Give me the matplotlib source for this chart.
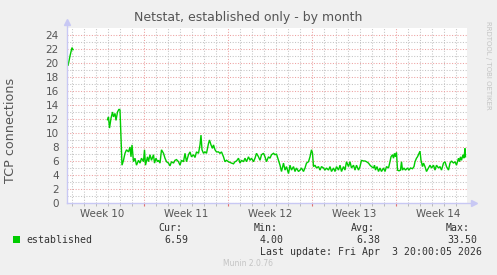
import numpy as np
import matplotlib.pyplot as plt
from matplotlib.patches import Rectangle

# hours since start of the graph window (800 h = 400 px * 2 h), NaN splits gaps
hours_a = [0, 2, 6, 10, 12]
conn_a = [20.2, 19.6, 21.0, 22.2, 21.9]

hours_b = [81, 83, 85, 88, 91, 93, 96, 98, 101, 104,
           106, 110, 113, 116, 119, 123, 126, 128, 130, 133,
           136, 139, 143, 146, 149, 153, 155, 157, 161, 163,
           166, 169, 173, 175, 178, 181, 183, 186, 189, 193,
           196, 199, 203, 206, 209, 213, 216, 219, 223, 226,
           229, 233,
           236, 239, 243, 246, 249, 253, 256, 259, 263, 266,
           268, 270, 273, 276, 279, 283, 285, 288, 291, 293,
           296, 299, 303, 306, 309, 313, 316, 319, 323, 326,
           329, 333, 336, 339, 343, 346, 349, 353, 356, 359,
           363, 366, 369, 373, 376, 379, 383, 386, 389, 393,
           396, 399, 403,
           406, 409, 413, 416, 419, 423, 426, 429, 433, 436,
           439, 443, 446, 449, 453, 456, 459, 463, 466, 469,
           473, 476, 479, 483, 486, 489, 491, 493, 496, 499,
           503, 506, 509, 513, 516, 519, 523, 526, 529, 533,
           536, 539, 543, 546, 549, 553, 556, 559, 563, 566,
           569, 573, 576, 579, 583, 586, 589, 593,
           596, 599, 603, 606, 609, 613, 615, 617, 620, 623,
           626, 629, 633, 636, 639, 643, 646, 648, 651, 653,
           655, 657, 659, 661, 664, 667, 669, 671, 674, 677,
           681, 684, 687, 691, 694, 696, 699, 701, 704, 706,
           708, 711, 713, 716, 719, 723, 726, 729, 733, 736,
           739, 743, 746, 749, 753, 756, 759, 763, 766, 769,
           773, 776, 779, 783, 785, 787, 789, 792, 794, 796,
           797]
conn_b = [11.9, 12.3, 10.7, 12.1, 13.0, 12.3, 12.8, 11.8, 13.0, 13.4,
          13.3, 5.4, 6.1, 7.1, 7.6, 7.3, 8.0, 6.6, 8.3, 5.9,
          6.4, 5.4, 6.1, 5.7, 6.4, 5.9, 7.6, 5.4, 6.6, 5.9,
          6.9, 6.1, 6.9, 5.7, 6.4, 5.9, 6.1, 5.7, 7.6, 7.1,
          6.4, 5.9, 5.7, 5.3, 5.9, 5.7, 6.1, 6.2, 5.9, 5.4,
          6.1, 5.9,
          7.1, 5.9, 6.9, 7.3, 6.6, 6.9, 6.5, 7.3, 7.1, 8.3,
          9.7, 7.6, 7.1, 7.3, 7.1, 8.5, 9.0, 8.3, 7.8, 8.3,
          7.6, 7.3, 7.3, 7.1, 7.3, 6.6, 5.9, 6.1, 5.9, 5.8,
          5.7, 5.6, 5.9, 6.0, 6.4, 5.7, 6.1, 5.9, 6.4, 5.9,
          6.6, 6.1, 6.4, 5.9, 6.4, 7.1, 6.6, 6.1, 6.9, 7.1,
          6.6, 5.9, 6.6,
          6.4, 6.9, 7.1, 6.9, 7.0, 6.1, 5.4, 4.5, 5.7, 4.7,
          5.2, 4.2, 5.4, 4.7, 5.2, 4.5, 5.0, 4.5, 4.7, 5.0,
          4.5, 5.0, 5.7, 5.9, 6.6, 7.6, 7.1, 5.2, 5.4, 5.0,
          5.2, 4.7, 5.2, 5.0, 4.7, 5.0, 4.7, 5.2, 4.5, 5.0,
          4.5, 5.2, 4.7, 5.4, 4.5, 5.2, 4.7, 5.9, 5.2, 5.9,
          5.0, 5.4, 4.7, 5.4, 4.7, 5.2, 6.1, 6.0,
          6.0, 5.9, 5.7, 5.4, 5.2, 5.0, 5.4, 4.7, 5.2, 4.5,
          5.0, 4.5, 5.0, 4.5, 5.2, 5.0, 5.9, 6.6, 6.9, 6.4,
          7.1, 6.6, 7.2, 4.7, 4.6, 4.7, 5.9, 4.7, 5.0, 4.7,
          5.0, 4.7, 5.0, 4.9, 5.2, 5.9, 6.4, 6.6, 7.1, 7.4,
          6.1, 5.2, 5.7, 5.2, 4.5, 5.0, 5.4, 5.0, 5.4, 4.7,
          5.4, 5.0, 5.2, 4.7, 5.7, 5.9, 5.2, 4.7, 5.7, 6.0,
          5.7, 5.9, 5.4, 6.4, 5.9, 6.6, 6.1, 6.9, 6.4, 7.8,
          6.6]

week_starts = [154, 322, 490, 658]
week_labels = ['Week 10', 'Week 11', 'Week 12', 'Week 13', 'Week 14']
week_mids = [70, 238, 406, 574, 742]

stats_names = ['Cur:', 'Min:', 'Avg:', 'Max:']
stats_vals = ['6.59', '4.00', '6.38', '33.50']

BG = '#f0f0f0'
GREEN = '#00cc00'
AXC = '#c8c8f4'
TXT = '#555555'

W, H = 497, 275
fig = plt.figure(figsize=(W / 100, H / 100), dpi=100, facecolor=BG)
ax = fig.add_axes([67 / W, 1 - 203 / H, 400 / W, 175 / H])
ax.set_facecolor('white')

hours = hours_a + [np.nan] + hours_b
conn = conn_a + [np.nan] + conn_b
ax.plot(hours, conn, color=GREEN, lw=1.0, zorder=5, solid_joinstyle='miter')

ax.set_xlim(0, 800)
ax.set_ylim(0, 25)
ax.set_xticks(week_starts)
ax.set_xticks(np.arange(10, 800, 24), minor=True)
ax.set_xticklabels([])
ax.set_yticks(np.arange(0, 25, 2))
ax.set_yticks(np.arange(0, 25, 1), minor=True)

ax.grid(which='minor', color='#c4c4c4', lw=0.75, ls=(0, (1, 1.6)))
ax.grid(which='major', color='#eda0a0', lw=0.75, ls=(0, (1, 1.6)))
ax.set_axisbelow(True)

ax.tick_params(axis='x', which='major', length=2, color='#e07070', direction='out')
ax.tick_params(axis='x', which='minor', length=2, color='#b0b0b0', direction='out')
ax.tick_params(axis='y', which='both', length=0, labelsize=7.5, labelcolor=TXT, pad=6)

for s in ax.spines.values():
    s.set_visible(False)

# axis lines with arrows
ax.plot([0, 0], [0, 1.035], transform=ax.transAxes, color=AXC, lw=1, clip_on=False, zorder=6)
ax.plot([0, 1.018], [0, 0], transform=ax.transAxes, color=AXC, lw=1, clip_on=False, zorder=6)
ax.plot([0], [1.035], transform=ax.transAxes, marker='^', ms=5, color=AXC, clip_on=False, zorder=6)
ax.plot([1.018], [0], transform=ax.transAxes, marker='>', ms=5, color=AXC, clip_on=False, zorder=6)

for xm, lab in zip(week_mids, week_labels):
    ax.text(xm, -0.035, lab, transform=ax.get_xaxis_transform(), ha='center', va='top',
            fontsize=7.4, color=TXT)

fig.text(248 / W, 1 - 18 / H, 'Netstat, established only - by month', ha='center', va='center',
         fontsize=9, color=TXT)
fig.text(11 / W, 1 - 130 / H, 'TCP connections', rotation=90, ha='center', va='center',
         fontsize=9.2, color=TXT)
fig.text(488 / W, 1 - 65 / H, 'RRDTOOL / TOBI OETIKER', rotation=270, ha='center', va='center',
         fontsize=5, color='#c4c4c4')

# legend block
fig.patches.append(Rectangle((13 / W, 1 - 243 / H), 7 / W, 7 / H, transform=fig.transFigure,
                             facecolor=GREEN, edgecolor='none'))
mono = dict(family='DejaVu Sans Mono', fontsize=7.1, color='#333333')
fig.text(26 / W, 1 - 240 / H, 'established', ha='left', va='center', **mono)
head_x = [182, 278, 375, 470]
val_x = [188, 284, 380, 477]
for hx, vx, nm, v in zip(head_x, val_x, stats_names, stats_vals):
    fig.text(hx / W, 1 - 228 / H, nm, ha='right', va='center', **mono)
    fig.text(vx / W, 1 - 240 / H, v, ha='right', va='center', **mono)
fig.text(482 / W, 1 - 252 / H, 'Last update: Fri Apr  3 20:00:05 2026', ha='right', va='center', **mono)
fig.text(248 / W, 1 - 264 / H, 'Munin 2.0.76', ha='center', va='center', fontsize=5.5, color='#c4c4c4')

fig.savefig('out.png', dpi=100, facecolor=BG)
